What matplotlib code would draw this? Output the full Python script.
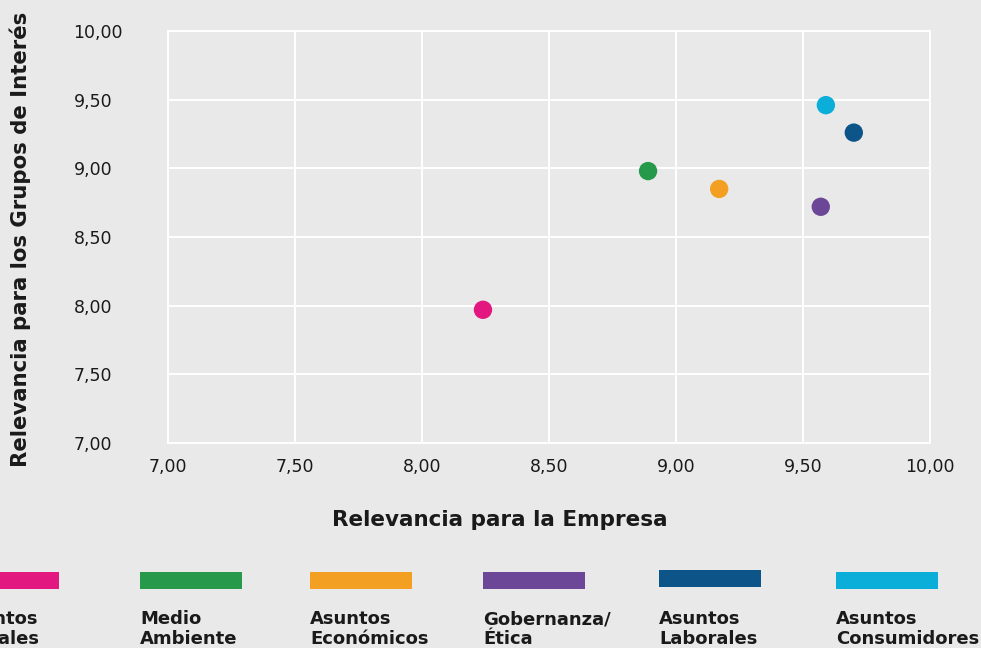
import matplotlib.pyplot as plt
from matplotlib.patches import Rectangle
from matplotlib.ticker import FuncFormatter

# data
categories = ['Asuntos\nSociales', 'Medio\nAmbiente', 'Asuntos\nEconómicos',
              'Gobernanza/\nÉtica', 'Asuntos\nLaborales', 'Asuntos\nConsumidores']
colors = ['#e2177f', '#26994a', '#f3a022', '#6c4797', '#0d5589', '#0aaed9']
empresa = [8.24, 8.89, 9.17, 9.57, 9.70, 9.59]
grupos = [7.97, 8.98, 8.85, 8.72, 9.26, 9.46]
ticks = [7.0, 7.5, 8.0, 8.5, 9.0, 9.5, 10.0]

bg = '#eae9e9'
plt.rcParams['font.family'] = ['DejaVu Sans']

fig = plt.figure(figsize=(9.81, 6.48), dpi=100, facecolor=bg)
ax = fig.add_axes([168 / 981, 205 / 648, 762 / 981, 412 / 648], facecolor=bg)

ax.scatter(empresa, grupos, c=colors, s=175, zorder=3, linewidths=0)

ax.set_xlim(7, 10)
ax.set_ylim(7, 10)
ax.set_xticks(ticks)
ax.set_yticks(ticks)
fmt = FuncFormatter(lambda v, p: f'{v:.2f}'.replace('.', ','))
ax.xaxis.set_major_formatter(fmt)
ax.yaxis.set_major_formatter(fmt)
ax.grid(True, color='white', linewidth=1.4)
ax.set_axisbelow(True)
for s in ax.spines.values():
    s.set_color('white')
    s.set_linewidth(1.4)
ax.tick_params(length=0, labelsize=12.5, colors='#1a1a1a')
ax.tick_params(axis='x', pad=11)
ax.tick_params(axis='y', pad=68)
for lab in ax.get_yticklabels():
    lab.set_horizontalalignment('left')

fig.text(500 / 981, 1 - 520 / 648, 'Relevancia para la Empresa', ha='center', va='center',
         fontsize=15.5, fontweight='bold', color='#1a1a1a')
fig.text(20 / 981, 1 - 239 / 648, 'Relevancia para los Grupos de Interés', ha='center', va='center',
         rotation=90, fontsize=15.3, fontweight='bold', color='#1a1a1a')

# legend across the bottom
lefts = [-43, 140, 310, 483, 659, 836]
for i, (name, col) in enumerate(zip(categories, colors)):
    top = 570 if i == 4 else 572
    fig.add_artist(Rectangle((lefts[i] / 981, 1 - (top + 17) / 648), 102 / 981, 17 / 648,
                             transform=fig.transFigure, color=col, linewidth=0))
    fig.text(lefts[i] / 981, 1 - 610 / 648, name, ha='left', va='top', fontsize=13,
             fontweight='bold', color='#1a1a1a', linespacing=1.15)

fig.savefig('out.png', dpi=100, facecolor=bg)
